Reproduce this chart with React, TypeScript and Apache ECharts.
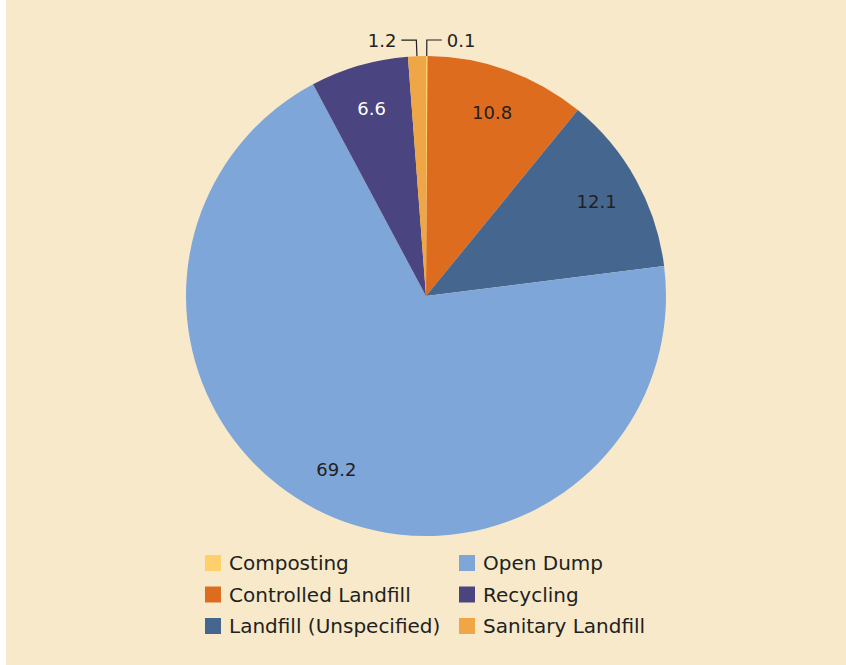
import React, { useEffect, useRef } from "react";
import * as echarts from "echarts";

const categories = [
  "Composting",
  "Controlled Landfill",
  "Landfill (Unspecified)",
  "Open Dump",
  "Recycling",
  "Sanitary Landfill",
];
const values = [0.1, 10.8, 12.1, 69.2, 6.6, 1.2];
const colors = ["#FDD06B", "#DE6C1F", "#45678F", "#7EA6D8", "#4A4480", "#EEA646"];
const outsideLabel = [true, false, false, false, false, true];
const labelColors = ["#231F20", "#231F20", "#231F20", "#231F20", "#FFFFFF", "#231F20"];

const FONT = "'DejaVu Sans', sans-serif";
const TEXT = "#231F20";

export default function App() {
  const ref = useRef<HTMLDivElement>(null);
  useEffect(() => {
    if (!ref.current) return;
    const chart = echarts.init(ref.current, undefined, { renderer: "svg" });
    const mainData = categories.map((name, i) => ({
      name,
      value: values[i],
      itemStyle: { color: colors[i] },
      label: { show: outsideLabel[i] },
      labelLine: { show: outsideLabel[i] },
    }));
    const overlayData = categories.map((name, i) => ({
      name,
      value: values[i],
      label: { show: !outsideLabel[i], color: labelColors[i] },
    }));
    const legendItem = (i: number) => ({
      name: categories[i],
      itemStyle: { color: colors[i] },
    });
    const legendBase = {
      orient: "vertical" as const,
      top: 553,
      padding: 0,
      itemWidth: 16,
      itemHeight: 16,
      itemGap: 11.5,
      icon: "rect",
      selectedMode: false,
      textStyle: {
        fontFamily: FONT,
        fontSize: 20,
        color: TEXT,
        lineHeight: 16,
        padding: [0, 0, 0, 3],
      },
    };
    chart.setOption({
      animation: false,
      backgroundColor: "transparent",
      legend: [
        { ...legendBase, left: 205, data: [0, 1, 2].map(legendItem) },
        { ...legendBase, left: 459, data: [3, 4, 5].map(legendItem) },
      ],
      series: [
        {
          type: "pie",
          center: [426, 296],
          radius: [0, 240],
          startAngle: 90,
          clockwise: true,
          avoidLabelOverlap: false,
          silent: true,
          data: mainData,
          label: {
            position: "outside",
            fontFamily: FONT,
            fontSize: 18,
            color: TEXT,
            formatter: (p: any) => p.value.toFixed(1),
          },
          labelLine: {
            length: 16,
            length2: 15,
            smooth: false,
            lineStyle: { color: TEXT, width: 1.2 },
          },
        },
        {
          type: "pie",
          center: [426, 296],
          radius: [144, 240],
          startAngle: 90,
          clockwise: true,
          avoidLabelOverlap: false,
          silent: true,
          data: overlayData,
          itemStyle: { color: "transparent", borderWidth: 0 },
          label: {
            position: "inside",
            fontFamily: FONT,
            fontSize: 18,
            formatter: (p: any) => p.value.toFixed(1),
          },
          labelLine: { show: false },
        },
      ],
    });
    return () => chart.dispose();
  }, []);
  return (
    <div
      style={{
        position: "fixed",
        left: 0,
        top: 0,
        width: 846,
        height: 665,
        background: "#FFFFFF",
      }}
    >
      <div
        style={{
          position: "absolute",
          left: 6,
          top: 0,
          width: 840,
          height: 665,
          background: "#F7E9CA",
        }}
      />
      <div
        ref={ref}
        style={{ position: "absolute", left: 0, top: 0, width: 846, height: 665 }}
      />
    </div>
  );
}
